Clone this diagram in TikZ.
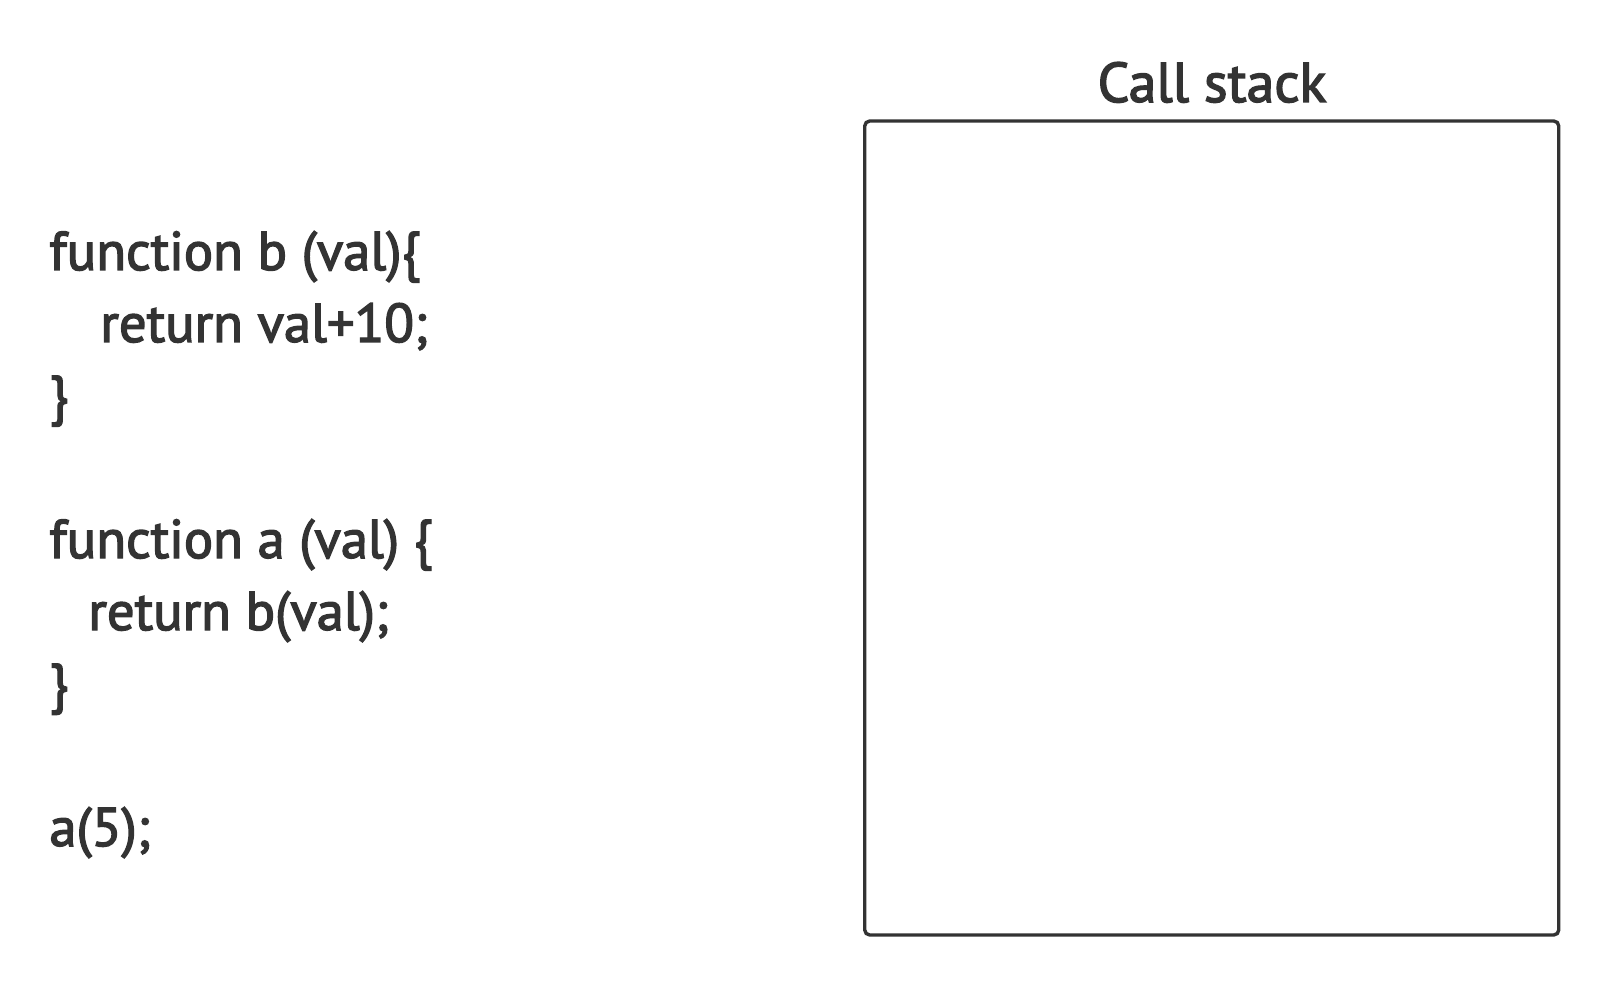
\documentclass[tikz,border=0pt]{standalone}
\usepackage{fontspec}
\setmainfont{PT Sans}[FakeBold=2.5]
\usetikzlibrary{positioning}
\definecolor{ink}{HTML}{333333}
\tikzset{code/.style = {anchor=base west, inner sep=0pt, text=ink, font=\fontsize{27.3}{36}\selectfont}}
\tikzset{title/.style = {anchor=base, inner sep=0pt, text=ink, font=\fontsize{28}{36}\selectfont}}
\tikzset{stackbox/.style = {draw=ink, line width=1.7pt, rounded corners=2.5pt, minimum width=347pt, minimum height=407pt, inner sep=0pt}}

\begin{document}
\begin{tikzpicture}[x=0.5pt, y=-0.5pt]
  \useasboundingbox (0,0) rectangle (1608,984);

  % the code
  \node [code] (fb) at (49,270) {function b (val)\{};
  \node [code] (rb) at (100,342) {return val+10;};
  \node [code] (cb) at (49,414) {\}};
  \node [code] (fa) at (49,558) {function a (val) \{};
  \node [code] (ra) at (88,630) {return b(val);};
  \node [code] (ca) at (49,702) {\}};
  \node [code] (call) at (49,846) {a(5);};

  % the call stack
  \node [stackbox] (stack) at (1211.75,528) {};
  \node [title] (title) at (1212,102) {Call stack};
\end{tikzpicture}
\end{document}
